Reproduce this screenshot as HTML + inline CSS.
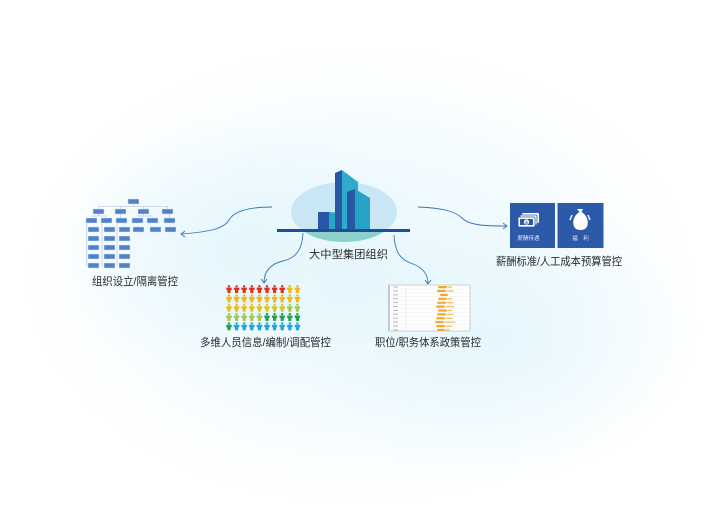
<!DOCTYPE html>
<html><head><meta charset="utf-8">
<style>
html,body{margin:0;padding:0;}
body{width:720px;height:528px;overflow:hidden;background:#fff;}
.bg{position:absolute;left:0;top:0;width:720px;height:528px;
background:
radial-gradient(ellipse 180px 130px at 240px 250px, rgba(225,245,252,0.7), rgba(225,245,252,0) 100%),
radial-gradient(ellipse 200px 140px at 500px 340px, rgba(225,245,252,0.7), rgba(225,245,252,0) 100%),
radial-gradient(ellipse 350px 240px at 360px 275px, #e8f7fc 0%, #f2fbfe 50%, #fbfeff 80%, #ffffff 100%);}
svg{position:absolute;left:0;top:0;}
text{font-family:"Liberation Sans","Noto Sans CJK SC",sans-serif;}
</style></head><body>
<div class="bg"></div>
<svg width="720" height="528" viewBox="0 0 720 528" xmlns="http://www.w3.org/2000/svg">
<defs>
<clipPath id="ell"><ellipse cx="344" cy="212" rx="53" ry="30"/></clipPath>
<symbol id="p" viewBox="0 0 6 8" overflow="visible">
<circle cx="3" cy="1.2" r="1.2"/>
<path d="M0.3 2.6 H5.7 V5 H4.6 V8 H1.4 V5 H0.3 Z"/>
</symbol>
</defs>

<!-- center ellipse -->
<ellipse cx="344" cy="212" rx="53" ry="30" fill="#c9e6f4"/>
<rect x="280" y="231" width="130" height="15" fill="#8dcfcb" clip-path="url(#ell)"/>
<!-- buildings -->
<polygon points="318,212 329,212 329,229 318,229" fill="#2757a5"/>
<polygon points="329,212 340,213 340,229 329,229" fill="#27a6c6"/>
<polygon points="335,173 342,170 342,229 335,229" fill="#2757a5"/>
<polygon points="342,170 358,182 358,229 342,229" fill="#2eaccb"/>
<polygon points="347,192 355,189 355,229 347,229" fill="#2757a5"/>
<polygon points="355,189 370,198 370,229 355,229" fill="#25a3c4"/>
<rect x="277" y="229" width="133" height="3" fill="#1f4e96"/>

<!-- connectors -->
<g fill="none" stroke="#3a73b8" stroke-width="0.9">
<path d="M272,207 C248,207 234,211 229,220 C224,229 208,232 181,234"/>
<path d="M185,231 L181,234 L185,237"/>
<path d="M418,207 C444,208 456,212 462,218 C470,226 488,226 507,226"/>
<path d="M503,223 L507,226 L503,229"/>
<path d="M303,233 C302,250 296,258 283,261 C270,264 264,272 264,283"/>
<path d="M261,279 L264,283 L267,279"/>
<path d="M394,235 C395,252 400,260 413,264 C424,268 428,275 428,284"/>
<path d="M425,280 L428,284 L431,280"/>
</g>

<!-- org chart -->
<g stroke="#a9bedd" stroke-width="0.6" fill="none">
<line x1="133.5" y1="204" x2="133.5" y2="206.5"/>
<line x1="98.5" y1="206.5" x2="167.5" y2="206.5"/>
<line x1="98.5" y1="206.5" x2="98.5" y2="209"/>
<line x1="120.5" y1="206.5" x2="120.5" y2="209"/>
<line x1="143.5" y1="206.5" x2="143.5" y2="209"/>
<line x1="167.5" y1="206.5" x2="167.5" y2="209"/>
<line x1="91" y1="216" x2="107" y2="216"/>
<line x1="137" y1="216" x2="153" y2="216"/>
<line x1="98.5" y1="214" x2="98.5" y2="216"/>
<line x1="143.5" y1="214" x2="143.5" y2="216"/>
<line x1="120.5" y1="214" x2="120.5" y2="218"/>
<line x1="169.5" y1="214" x2="169.5" y2="218"/>
<line x1="86.5" y1="223" x2="86.5" y2="266"/>
<line x1="102" y1="223" x2="102" y2="266"/>
<line x1="117" y1="223" x2="117" y2="266"/>
</g>
<g fill="#4f82c8" stroke="#dbe6f4" stroke-width="0.5">
<rect x="128" y="199" width="11" height="5"/>
<rect x="93" y="209" width="11" height="5"/><rect x="115" y="209" width="11" height="5"/><rect x="138" y="209" width="11" height="5"/><rect x="162" y="209" width="11" height="5"/>
<rect x="86" y="218" width="11" height="5"/><rect x="101" y="218" width="11" height="5"/><rect x="116" y="218" width="11" height="5"/><rect x="132" y="218" width="11" height="5"/><rect x="147" y="218" width="11" height="5"/><rect x="164" y="218" width="11" height="5"/>
<rect x="88" y="227" width="11" height="5"/><rect x="104" y="227" width="11" height="5"/><rect x="119" y="227" width="11" height="5"/><rect x="133" y="227" width="11" height="5"/><rect x="150" y="227" width="11" height="5"/><rect x="165" y="227" width="11" height="5"/>
<rect x="88" y="236" width="11" height="5"/><rect x="104" y="236" width="11" height="5"/><rect x="119" y="236" width="11" height="5"/>
<rect x="88" y="245" width="11" height="5"/><rect x="104" y="245" width="11" height="5"/><rect x="119" y="245" width="11" height="5"/>
<rect x="88" y="254" width="11" height="5"/><rect x="104" y="254" width="11" height="5"/><rect x="119" y="254" width="11" height="5"/>
<rect x="88" y="263" width="11" height="5"/><rect x="104" y="263" width="11" height="5"/><rect x="119" y="263" width="11" height="5"/>
</g>

<!-- people grid -->
<g>
<use href="#p" x="226" y="285" width="6" height="8" fill="#e5301f"/><use href="#p" x="233.6" y="285" width="6" height="8" fill="#e5301f"/><use href="#p" x="241.2" y="285" width="6" height="8" fill="#e5301f"/><use href="#p" x="248.8" y="285" width="6" height="8" fill="#e5301f"/><use href="#p" x="256.4" y="285" width="6" height="8" fill="#e5301f"/><use href="#p" x="264" y="285" width="6" height="8" fill="#e5301f"/><use href="#p" x="271.6" y="285" width="6" height="8" fill="#e5301f"/><use href="#p" x="279.2" y="285" width="6" height="8" fill="#e5301f"/><use href="#p" x="286.8" y="285" width="6" height="8" fill="#f2b61a"/><use href="#p" x="294.4" y="285" width="6" height="8" fill="#f2b61a"/>
<use href="#p" x="226" y="294.3" width="6" height="8" fill="#f2b61a"/><use href="#p" x="233.6" y="294.3" width="6" height="8" fill="#f2b61a"/><use href="#p" x="241.2" y="294.3" width="6" height="8" fill="#f2b61a"/><use href="#p" x="248.8" y="294.3" width="6" height="8" fill="#f2b61a"/><use href="#p" x="256.4" y="294.3" width="6" height="8" fill="#f2b61a"/><use href="#p" x="264" y="294.3" width="6" height="8" fill="#f2b61a"/><use href="#p" x="271.6" y="294.3" width="6" height="8" fill="#f2b61a"/><use href="#p" x="279.2" y="294.3" width="6" height="8" fill="#f2b61a"/><use href="#p" x="286.8" y="294.3" width="6" height="8" fill="#f2b61a"/><use href="#p" x="294.4" y="294.3" width="6" height="8" fill="#f2b61a"/>
<use href="#p" x="226" y="303.6" width="6" height="8" fill="#f0b81c"/><use href="#p" x="233.6" y="303.6" width="6" height="8" fill="#f0b81c"/><use href="#p" x="241.2" y="303.6" width="6" height="8" fill="#eabd1c"/><use href="#p" x="248.8" y="303.6" width="6" height="8" fill="#e4c01e"/><use href="#p" x="256.4" y="303.6" width="6" height="8" fill="#dcc320"/><use href="#p" x="264" y="303.6" width="6" height="8" fill="#dcc320"/><use href="#p" x="271.6" y="303.6" width="6" height="8" fill="#d4c424"/><use href="#p" x="279.2" y="303.6" width="6" height="8" fill="#cfc628"/><use href="#p" x="286.8" y="303.6" width="6" height="8" fill="#a3c84a"/><use href="#p" x="294.4" y="303.6" width="6" height="8" fill="#a3c84a"/>
<use href="#p" x="226" y="312.9" width="6" height="8" fill="#a3c84a"/><use href="#p" x="233.6" y="312.9" width="6" height="8" fill="#a3c84a"/><use href="#p" x="241.2" y="312.9" width="6" height="8" fill="#a3c84a"/><use href="#p" x="248.8" y="312.9" width="6" height="8" fill="#a3c84a"/><use href="#p" x="256.4" y="312.9" width="6" height="8" fill="#a3c84a"/><use href="#p" x="264" y="312.9" width="6" height="8" fill="#22a04c"/><use href="#p" x="271.6" y="312.9" width="6" height="8" fill="#22a04c"/><use href="#p" x="279.2" y="312.9" width="6" height="8" fill="#22a04c"/><use href="#p" x="286.8" y="312.9" width="6" height="8" fill="#22a04c"/><use href="#p" x="294.4" y="312.9" width="6" height="8" fill="#22a04c"/>
<use href="#p" x="226" y="322.2" width="6" height="8" fill="#22a04c"/><use href="#p" x="233.6" y="322.2" width="6" height="8" fill="#1ea5df"/><use href="#p" x="241.2" y="322.2" width="6" height="8" fill="#1ea5df"/><use href="#p" x="248.8" y="322.2" width="6" height="8" fill="#1ea5df"/><use href="#p" x="256.4" y="322.2" width="6" height="8" fill="#1ea5df"/><use href="#p" x="264" y="322.2" width="6" height="8" fill="#1ea5df"/><use href="#p" x="271.6" y="322.2" width="6" height="8" fill="#1ea5df"/><use href="#p" x="279.2" y="322.2" width="6" height="8" fill="#1ea5df"/><use href="#p" x="286.8" y="322.2" width="6" height="8" fill="#1ea5df"/><use href="#p" x="294.4" y="322.2" width="6" height="8" fill="#1ea5df"/>
</g>

<!-- job table -->
<rect x="389" y="285" width="81" height="46" fill="#ffffff" stroke="#c4c4c4" stroke-width="0.8"/>
<line x1="389" y1="331" x2="389" y2="285" stroke="#888" stroke-width="0.8"/>
<line x1="406" y1="285" x2="406" y2="331" stroke="#e0e0e0" stroke-width="0.6"/>
<g stroke="#ececec" stroke-width="0.5">
<line x1="389" y1="289" x2="470" y2="289"/><line x1="389" y1="292.9" x2="470" y2="292.9"/><line x1="389" y1="296.8" x2="470" y2="296.8"/><line x1="389" y1="300.7" x2="470" y2="300.7"/><line x1="389" y1="304.6" x2="470" y2="304.6"/><line x1="389" y1="308.5" x2="470" y2="308.5"/><line x1="389" y1="312.4" x2="470" y2="312.4"/><line x1="389" y1="316.3" x2="470" y2="316.3"/><line x1="389" y1="320.2" x2="470" y2="320.2"/><line x1="389" y1="324.1" x2="470" y2="324.1"/><line x1="389" y1="328" x2="470" y2="328"/>
</g>
<g fill="#b8b8b8">
<rect x="393" y="286.5" width="5" height="1"/><rect x="393" y="290.4" width="5" height="1"/><rect x="393" y="294.3" width="5" height="1"/><rect x="393" y="298.2" width="5" height="1"/><rect x="393" y="302.1" width="5" height="1"/><rect x="393" y="306" width="5" height="1"/><rect x="393" y="309.9" width="5" height="1"/><rect x="393" y="313.8" width="5" height="1"/><rect x="393" y="317.7" width="5" height="1"/><rect x="393" y="321.6" width="5" height="1"/><rect x="393" y="325.5" width="5" height="1"/><rect x="393" y="329.4" width="5" height="1"/>
</g>
<g fill="#eeaa2c">
<rect x="438" y="286" width="9" height="2.2" rx="1.1"/><rect x="437" y="289.9" width="9" height="2.2" rx="1.1"/><rect x="440" y="293.8" width="8" height="2.2" rx="1.1"/><rect x="438" y="297.7" width="9" height="2.2" rx="1.1"/><rect x="437" y="301.6" width="9" height="2.2" rx="1.1"/><rect x="436" y="305.5" width="9" height="2.2" rx="1.1"/><rect x="438" y="309.4" width="9" height="2.2" rx="1.1"/><rect x="437" y="313.3" width="9" height="2.2" rx="1.1"/><rect x="436" y="317.2" width="9" height="2.2" rx="1.1"/><rect x="435" y="321.1" width="9" height="2.2" rx="1.1"/><rect x="436" y="325" width="9" height="2.2" rx="1.1"/><rect x="437" y="328.9" width="8" height="2" rx="1"/>
</g>
<g fill="#f2c46a">
<rect x="447.5" y="286.4" width="4.5" height="1.4"/><rect x="446.5" y="290.3" width="7" height="1.4"/><rect x="447.5" y="298.1" width="4.5" height="1.4"/><rect x="446.5" y="302" width="7" height="1.4"/><rect x="445.5" y="305.9" width="9" height="1.4"/><rect x="447.5" y="309.8" width="4.5" height="1.4"/><rect x="446.5" y="313.7" width="7" height="1.4"/><rect x="445.5" y="317.6" width="7" height="1.4"/><rect x="444.5" y="321.5" width="11" height="1.4"/><rect x="445.5" y="325.4" width="7" height="1.4"/><rect x="445.5" y="329.2" width="4" height="1.4"/>
</g>

<!-- right boxes -->
<rect x="510" y="203" width="45" height="45" fill="#2c59a8"/>
<rect x="557.5" y="203" width="46" height="45" fill="#2c59a8"/>
<g fill="#ffffff">
<rect x="522" y="213" width="17" height="10" rx="1"/>
<rect x="520" y="215" width="17" height="10" rx="1" stroke="#2c59a8" stroke-width="0.8"/>
<rect x="518" y="217" width="17" height="10" rx="1" stroke="#2c59a8" stroke-width="0.8"/>
</g>
<rect x="520" y="219" width="13" height="6" fill="#2c59a8"/>
<circle cx="526.5" cy="222" r="2.6" fill="#ffffff"/>
<text x="526.5" y="224" font-size="4.5" fill="#2c59a8" text-anchor="middle" font-weight="bold">$</text>
<text x="528.5" y="240" font-size="5.5" fill="#dfe8f6" text-anchor="middle">薪酬待遇</text>
<path d="M577,209 h6 l-1.5,3 c5,3 7,8 6,13 c-1,4 -4,5 -7,5 c-3,0 -6,-1 -7,-5 c-1,-5 1,-10 6,-13 z" fill="#ffffff"/>
<path d="M572,215 l-2,5 M588,215 l2,5" stroke="#ffffff" stroke-width="1.4"/>
<text x="580.5" y="240" font-size="5.5" fill="#dfe8f6" text-anchor="middle">福　利</text>

<!-- labels -->
<g fill="#2a2a2a" font-size="11">
<text x="309" y="258" textLength="79" lengthAdjust="spacingAndGlyphs">大中型集团组织</text>
<text x="92" y="285" textLength="86" lengthAdjust="spacingAndGlyphs">组织设立/隔离管控</text>
<text x="496" y="265" textLength="126" lengthAdjust="spacingAndGlyphs">薪酬标准/人工成本预算管控</text>
<text x="200" y="346" textLength="131" lengthAdjust="spacingAndGlyphs">多维人员信息/编制/调配管控</text>
<text x="375" y="346" textLength="106" lengthAdjust="spacingAndGlyphs">职位/职务体系政策管控</text>
</g>
</svg>
</body></html>
